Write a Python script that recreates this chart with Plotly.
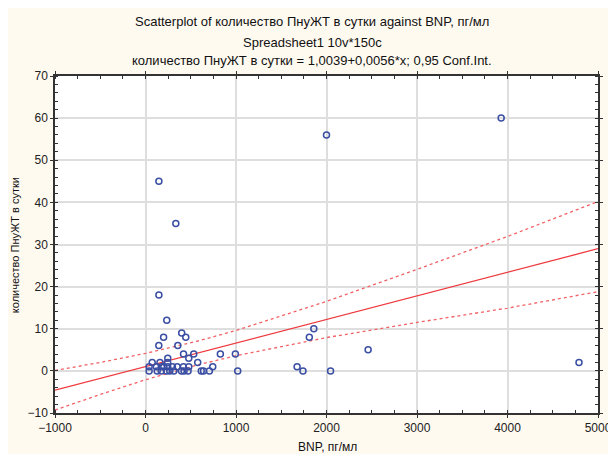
import plotly.graph_objects as go

# ---- data ----
bnp = [148, 335, 148, 2000, 3930, 4790, 2460, 1860, 1810, 1675, 1740, 2045,
       235, 400, 200, 445, 147, 357, 246, 420, 533, 478, 827, 993, 577, 743,
       74, 40, 40, 1019, 616, 641, 706,
       160, 245,
       120, 175, 202, 246, 298, 350, 419, 478,
       129, 173, 232, 268, 313, 397, 426, 470]
count = [45, 35, 18, 56, 60, 2, 5, 10, 8, 1, 0, 0,
         12, 9, 8, 8, 6, 6, 3, 4, 4, 3, 4, 4, 2, 1,
         2, 1, 0, 0, 0, 0, 0,
         2, 2,
         1, 1, 1, 1, 1, 1, 1, 1,
         0, 0, 0, 0, 0, 0, 0, 0]

intercept = 1.0039
slope = 0.0056
fit_x = [-1000, 5000]

# 95% confidence band
band_x = [-1000, -500, 0, 600, 1000, 2000, 3000, 4000, 5000]
band_upper = [0.1, 2.0, 4.15, 7.2, 9.6, 16.5, 24.1, 31.9, 40.2]
band_lower = [-9.3, -5.6, -2.1, 1.55, 3.6, 7.9, 11.5, 14.9, 18.8]

title_lines = ["Scatterplot of количество ПнуЖТ в сутки against BNP, пг/мл",
               "Spreadsheet1 10v*150c",
               "количество ПнуЖТ в сутки = 1,0039+0,0056*x; 0,95 Conf.Int."]
x_title = "BNP, пг/мл"
y_title = "количество ПнуЖТ в сутки"

W, H = 616, 454
L, R, T, B = 47, 24, 68, 49
pw, ph = W - L - R, H - T - B

def px(xp):
    return (xp - L) / pw

def py(yp):
    return (H - B - yp) / ph

FONT = "Liberation Sans, Arial, sans-serif"
RED = "#ee3b3f"
RED_D = "#f26166"

fig = go.Figure()
fig.add_trace(go.Scatter(x=band_x, y=band_upper, mode="lines",
                         line=dict(color=RED_D, width=1.3, dash="3px,3px"),
                         hoverinfo="skip"))
fig.add_trace(go.Scatter(x=band_x, y=band_lower, mode="lines",
                         line=dict(color=RED_D, width=1.3, dash="3px,3px"),
                         hoverinfo="skip"))
fig.add_trace(go.Scatter(x=fit_x, y=[intercept + slope * v for v in fit_x],
                         mode="lines", line=dict(color=RED, width=1.3)))
fig.add_trace(go.Scatter(x=bnp, y=count, mode="markers",
                         marker=dict(symbol="circle-open", size=6,
                                     color="#3a4ea3", line=dict(width=1.5))))

axis_common = dict(
    showgrid=True, gridcolor="#dedede", gridwidth=1.5,
    showline=True, linecolor="#333333", linewidth=1.5, mirror="allticks",
    ticks="outside", ticklen=3, tickcolor="#333333",
    zeroline=False,
    tickfont=dict(family=FONT, size=12, color="#222222"),
)

fig.update_xaxes(range=[-1000, 5000], tick0=0, dtick=1000,
                 minor=dict(ticks="inside", ticklen=3, dtick=250, tick0=0,
                            tickcolor="#333333", showgrid=False),
                 **axis_common)
fig.update_yaxes(range=[-10, 70], tick0=0, dtick=10,
                 minor=dict(ticks="inside", ticklen=3, dtick=2, tick0=0,
                            tickcolor="#333333", showgrid=False),
                 **axis_common)

annotations = []
for text, yp in zip(title_lines, [13, 34, 53]):
    annotations.append(dict(text=text, x=px(305), y=py(yp), xref="paper",
                            yref="paper", showarrow=False, xanchor="center",
                            yanchor="middle",
                            font=dict(family=FONT, size=13, color="#111111")))
annotations.append(dict(text=x_title, x=px(321), y=py(439), xref="paper",
                        yref="paper", showarrow=False, xanchor="center",
                        yanchor="middle",
                        font=dict(family=FONT, size=12, color="#111111")))
annotations.append(dict(text=y_title, x=px(7), y=py(237), xref="paper",
                        yref="paper", showarrow=False, xanchor="center",
                        yanchor="middle", textangle=-90,
                        font=dict(family=FONT, size=11, color="#111111")))

fig.update_layout(
    width=W, height=H,
    margin=dict(l=L, r=R, t=T, b=B),
    paper_bgcolor="#fffaf0", plot_bgcolor="white",
    showlegend=False,
    annotations=annotations,
    font=dict(family=FONT),
)

fig.write_html("out.html")
